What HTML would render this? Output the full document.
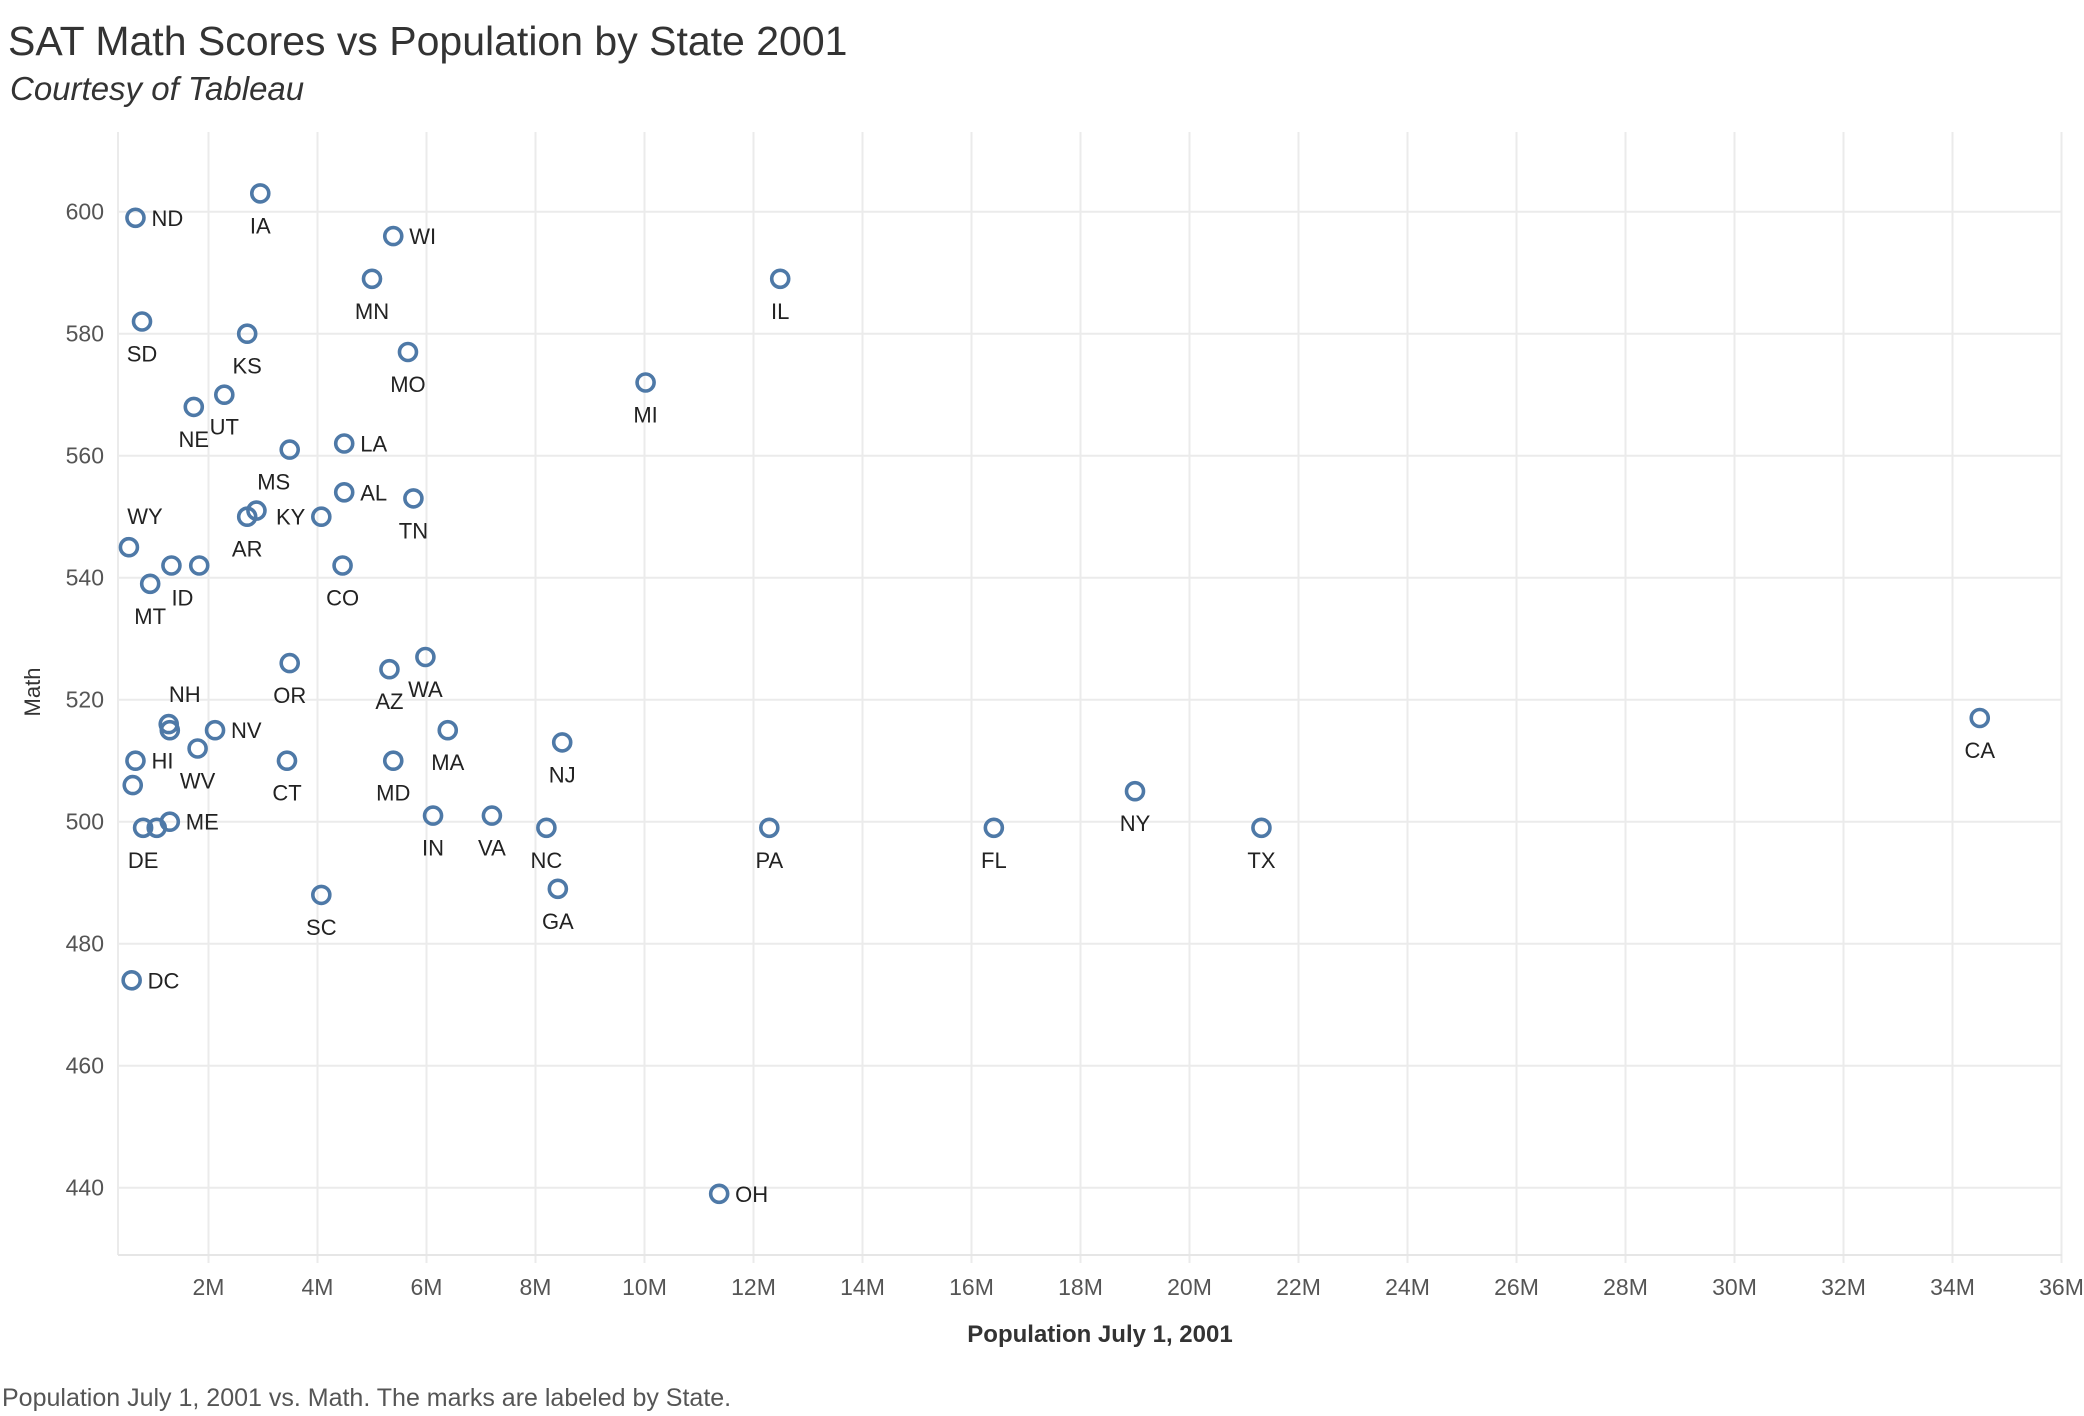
<!DOCTYPE html>
<html><head><meta charset="utf-8"><style>
html,body{margin:0;padding:0;background:#fff;}
svg{display:block;font-family:"Liberation Sans",sans-serif;}
</style></head><body>
<svg width="2084" height="1416" viewBox="0 0 2084 1416">
<text x="8" y="55" font-size="41" fill="#333">SAT Math Scores vs Population by State 2001</text>
<text x="10" y="100" font-size="33" font-style="italic" fill="#333">Courtesy of Tableau</text>
<g id="grid"></g>
<g id="axes"></g>
<g id="marks"></g>
<text x="40" y="692" font-size="22" fill="#333" transform="rotate(-90 40 692)" text-anchor="middle">Math</text>
<text x="1100" y="1342" font-size="24" font-weight="bold" fill="#333" text-anchor="middle">Population July 1, 2001</text>
<text x="2" y="1406" font-size="25" fill="#555">Population July 1, 2001 vs. Math.  The marks are labeled by State.</text>
</svg>
<script>
const states = ["ND","IA","WI","MN","IL","SD","KS","MO","MI","UT","NE","MS","LA","AL","TN","AR","","KY","WY","MT","ID","","CO","OR","AZ","WA","NH","","NV","WV","HI","","CT","MD","MA","NJ","IN","VA","NC","GA","SC","DE","","ME","PA","FL","NY","TX","CA","DC","OH"];
const population = [0.66,2.95,5.39,5.0,12.49,0.78,2.71,5.66,10.02,2.29,1.73,3.49,4.49,4.49,5.76,2.71,2.88,4.07,0.54,0.93,1.32,1.83,4.46,3.49,5.32,5.98,1.27,1.29,2.12,1.80,0.66,0.61,3.44,5.39,6.39,8.49,6.12,7.2,8.2,8.41,4.07,0.8,1.05,1.29,12.29,16.41,19.0,21.32,34.5,0.59,11.37];
const math = [599,603,596,589,589,582,580,577,572,570,568,561,562,554,553,550,551,550,545,539,542,542,542,526,525,527,516,515,515,512,510,506,510,510,515,513,501,501,499,489,488,499,499,500,499,499,505,499,517,474,439];
const labelPos = ["r","b","r","b","b","b","b","b","b","b","b","bl","r","r","b","b","","l","tr","b","br","","b","b","b","b","t","","r","b","r","","b","b","b","b","b","b","b","b","b","b","","r","b","b","b","b","b","r","r"];
const yTicks = [440,460,480,500,520,540,560,580,600];
const xTicks = [2,4,6,8,10,12,14,16,18,20,22,24,26,28,30,32,34,36];

const NS="http://www.w3.org/2000/svg";
const xS = m => 99.5 + 54.5*m;
const yS = v => 211.7 + (600 - v)*6.1;
const L=118, R=2062, T=132, B=1255;
function mk(tag, attrs, parent, txt){const e=document.createElementNS(NS,tag);for(const k in attrs)e.setAttribute(k,attrs[k]);if(txt!==undefined)e.textContent=txt;parent.appendChild(e);return e;}
const grid=document.getElementById('grid'), axes=document.getElementById('axes'), marks=document.getElementById('marks');
yTicks.forEach(v=>{
  const ln=mk('line',{x1:L,x2:R,y1:yS(v),y2:yS(v),stroke:'#ebebeb','stroke-width':2},grid);
  
  
  const t=mk('text',{x:104,y:yS(v)+8,'text-anchor':'end','font-size':23,fill:'#555'},axes,String(v));
  
  
});
xTicks.forEach(m=>{
  const ln=mk('line',{x1:xS(m),x2:xS(m),y1:T,y2:B+8,stroke:'#ebebeb','stroke-width':2},grid);
  
  
  const t=mk('text',{x:xS(m),y:1295,'text-anchor':'middle','font-size':23,fill:'#555'},axes,m+'M');
  
  
});
const lv=mk('line',{x1:L,x2:L,y1:T,y2:B,stroke:'#ebebeb','stroke-width':2},grid);


const bx=mk('line',{x1:L,x2:R,y1:B,y2:B,stroke:'#e6e6e6','stroke-width':2},grid);


population.forEach((p,i)=>{
  const cx=xS(p), cy=yS(math[i]);
  const c=mk('circle',{cx:cx,cy:cy,r:8.5,fill:'none',stroke:'#4e79a7','stroke-width':3.6},marks);
  
  
  const s=states[i]; if(!s) return;
  const pos=labelPos[i]; let x=cx,y=cy+40,a='middle';
  if(pos==='r'){x=cx+16;y=cy+8;a='start';}
  else if(pos==='l'){x=cx-16;y=cy+8;a='end';}
  else if(pos==='bl'){x=cx-16;}
  else if(pos==='br'){x=cx+11;}
  else if(pos==='t'){x=cx+16;y=cy-22;}
  else if(pos==='tr'){x=cx+16;y=cy-23;}
  const t=mk('text',{x:x,y:y,'text-anchor':a,'font-size':22,fill:'#222'},marks,s);
  
  
});
</script>
</body></html>
